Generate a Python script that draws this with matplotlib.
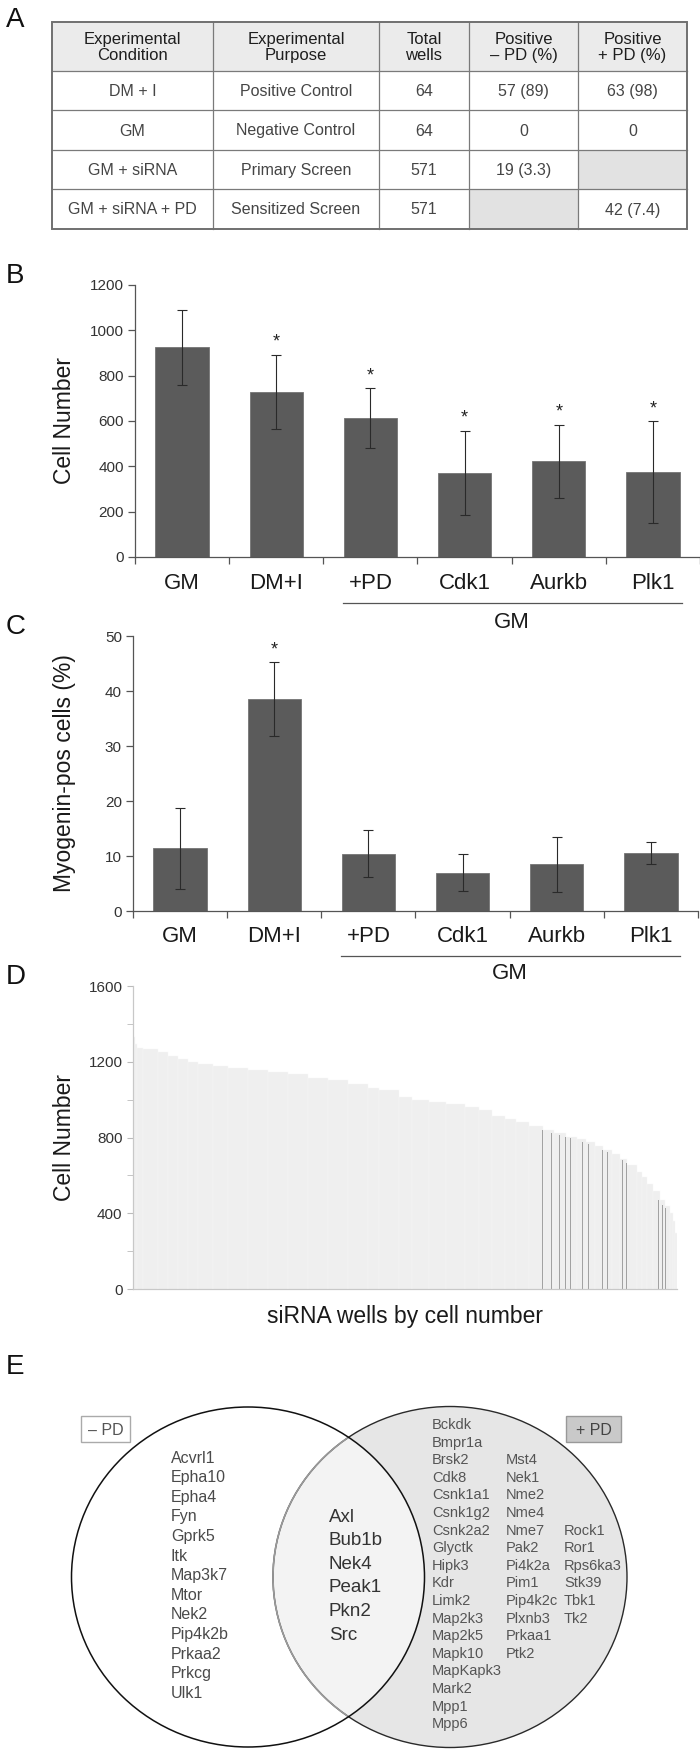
import matplotlib
matplotlib.use('Agg')
import matplotlib.pyplot as plt
import matplotlib.transforms as mtransforms
from matplotlib.patches import Rectangle, Ellipse
import numpy as np

plt.rcParams['font.family'] = ['Liberation Sans', 'DejaVu Sans']

# ---------------- data ----------------
table_header = ["Experimental\nCondition", "Experimental\nPurpose", "Total\nwells",
                "Positive\n– PD (%)", "Positive\n+ PD (%)"]
table_condition = ["DM + I", "GM", "GM + siRNA", "GM + siRNA + PD"]
table_purpose = ["Positive Control", "Negative Control", "Primary Screen", "Sensitized Screen"]
table_total = ["64", "64", "571", "571"]
table_pos_minus = ["57 (89)", "0", "19 (3.3)", None]
table_pos_plus = ["63 (98)", "0", None, "42 (7.4)"]

categories = ["GM", "DM+I", "+PD", "Cdk1", "Aurkb", "Plk1"]
group_label = "GM"
group_first, group_last = 2, 5
cell_mean = [925, 729, 612, 372, 422, 375]
cell_err = [165, 164, 132, 185, 161, 223]
cell_sig = [False, True, True, True, True, True]
myog_mean = [11.4, 38.5, 10.4, 7.0, 8.5, 10.6]
myog_err = [7.4, 6.7, 4.3, 3.3, 5.0, 2.0]
myog_sig = [False, True, False, False, False, False]

n_wells = 571
well_rank = [0, 2, 4, 11, 26, 37, 47, 58, 68, 84,
             100, 121, 142, 163, 184, 205, 226, 247, 258, 279,
             293, 311, 329, 348, 363, 377, 390, 402, 416, 430,
             442, 455, 466, 476, 485, 493, 503, 511, 519, 529,
             534, 539, 546, 553, 558, 564, 567, 569]
well_cells = [1330, 1295, 1275, 1268, 1250, 1232, 1215, 1197, 1190, 1180,
              1165, 1157, 1145, 1135, 1115, 1104, 1085, 1062, 1050, 1015,
              1000, 985, 975, 960, 945, 915, 898, 884, 862, 840,
              822, 805, 790, 775, 755, 734, 712, 688, 655, 620,
              590, 555, 515, 470, 438, 400, 360, 295]
positive_rank = [401, 430, 439, 444, 448, 454, 459, 466, 472, 478,
                 493, 498, 507, 514, 518, 528, 552, 556, 559]
positive_cells = [884, 840, 826, 818, 812, 803, 795, 787, 778, 768,
                  734, 722, 700, 682, 665, 608, 470, 446, 430]

venn_minus_only = ["Acvrl1", "Epha10", "Epha4", "Fyn", "Gprk5", "Itk", "Map3k7",
                   "Mtor", "Nek2", "Pip4k2b", "Prkaa2", "Prkcg", "Ulk1"]
venn_both = ["Axl", "Bub1b", "Nek4", "Peak1", "Pkn2", "Src"]
venn_plus_col1 = ["Bckdk", "Bmpr1a", "Brsk2", "Cdk8", "Csnk1a1", "Csnk1g2", "Csnk2a2",
                  "Glyctk", "Hipk3", "Kdr", "Limk2", "Map2k3", "Map2k5", "Mapk10",
                  "MapKapk3", "Mark2", "Mpp1", "Mpp6"]
venn_plus_col2 = ["Mst4", "Nek1", "Nme2", "Nme4", "Nme7", "Pak2", "Pi4k2a", "Pim1",
                  "Pip4k2c", "Plxnb3", "Prkaa1", "Ptk2"]
venn_plus_col3 = ["Rock1", "Ror1", "Rps6ka3", "Stk39", "Tbk1", "Tk2"]

# ---------------- layout helpers ----------------
W, H = 700, 1751
fig = plt.figure(figsize=(W / 100, H / 100), dpi=100)


def fbox(x0, y0, x1, y1):
    return [x0 / W, 1 - y1 / H, (x1 - x0) / W, (y1 - y0) / H]


ov = fig.add_axes([0, 0, 1, 1], zorder=0)
ov.set_xlim(0, W)
ov.set_ylim(H, 0)
ov.axis('off')
ov.patch.set_visible(False)

# panel letters
for letter, yc in zip("ABCDE", [20, 276, 627, 977, 1367]):
    ov.text(6, yc, letter, fontsize=20, ha='left', va='center', color='#111')

# ---------------- A: table ----------------
col_edges = [52, 213, 379, 469, 578, 687]
row_edges = [22, 71, 110, 150, 189, 229]
ov.add_patch(Rectangle((col_edges[0], row_edges[0]), col_edges[-1] - col_edges[0],
                       row_edges[1] - row_edges[0], facecolor='#ebebeb', edgecolor='none', zorder=1))
body = list(zip(table_condition, table_purpose, table_total, table_pos_minus, table_pos_plus))
for r, row in enumerate(body):
    for c, val in enumerate(row):
        x0, x1 = col_edges[c], col_edges[c + 1]
        y0, y1 = row_edges[r + 1], row_edges[r + 2]
        if val is None:
            ov.add_patch(Rectangle((x0, y0), x1 - x0, y1 - y0, facecolor='#e2e2e2',
                                   edgecolor='none', zorder=1))
        else:
            ov.text((x0 + x1) / 2, (y0 + y1) / 2 + 1, val, ha='center', va='center',
                    fontsize=11.5, color='#454545', zorder=3)
for c, val in enumerate(table_header):
    ov.text((col_edges[c] + col_edges[c + 1]) / 2, (row_edges[0] + row_edges[1]) / 2 + 1, val,
            ha='center', va='center', fontsize=12, color='#1e1e1e', linespacing=1.05, zorder=3)
for xe in col_edges[1:-1]:
    ov.plot([xe, xe], [row_edges[0], row_edges[-1]], color='#7a7a7a', lw=0.9, zorder=2)
for ye in row_edges[1:-1]:
    ov.plot([col_edges[0], col_edges[-1]], [ye, ye], color='#7a7a7a', lw=0.9, zorder=2)
ov.add_patch(Rectangle((col_edges[0], row_edges[0]), col_edges[-1] - col_edges[0],
                       row_edges[-1] - row_edges[0], facecolor='none', edgecolor='#707070',
                       lw=1.4, zorder=2))


# ---------------- B & C: bar panels ----------------
def bar_panel(box, means, errs, sig, ymax, ystep, ylabel, label_pad, group_y, line_y, ylab_x):
    x0, y0, x1, y1 = box
    ax = fig.add_axes(fbox(*box), zorder=1)
    ax.patch.set_visible(False)
    x = np.arange(len(categories))
    ax.bar(x, means, width=0.565, color='#5b5b5b', edgecolor='#747474', linewidth=0.6, zorder=2)
    ax.errorbar(x, means, yerr=errs, fmt='none', ecolor='#2a2a2a', elinewidth=0.8,
                capsize=3.5, capthick=0.8, zorder=3)
    for xi, m, e, s in zip(x, means, errs, sig):
        if s:
            ax.annotate('*', (xi, m + e), xytext=(0, 3), textcoords='offset points',
                        ha='center', va='bottom', fontsize=13, color='#222')
    ax.set_xlim(-0.5, len(categories) - 0.5)
    ax.set_ylim(0, ymax)
    ax.set_yticks(np.arange(0, ymax + 1, ystep))
    ax.set_xticks(x)
    ax.set_xticklabels(categories, fontsize=16, color='#1a1a1a')
    ax.set_xticks(np.arange(-0.5, len(categories)), minor=True)
    ax.tick_params(axis='x', which='major', length=0, pad=label_pad)
    ax.tick_params(axis='x', which='minor', length=5, direction='out', color='#555', width=0.9)
    ax.tick_params(axis='y', length=5, direction='out', labelsize=11, color='#555',
                   labelcolor='#333', width=0.9, pad=3)
    for s in ['top', 'right']:
        ax.spines[s].set_visible(False)
    for s in ['left', 'bottom']:
        ax.spines[s].set_color('#555')
        ax.spines[s].set_linewidth(0.9)
    ax.set_ylabel(ylabel, fontsize=16.5, color='#1a1a1a')
    ax.yaxis.set_label_coords((ylab_x - x0) / (x1 - x0), 0.5)
    # group underline + label
    trans = mtransforms.blended_transform_factory(ax.transData, ax.transAxes)
    ly = -(line_y - y1) / (y1 - y0)
    gy = -(group_y - y1) / (y1 - y0)
    ax.plot([group_first - 0.29, group_last + 0.31], [ly, ly], transform=trans,
            color='#555', lw=0.9, clip_on=False)
    ax.text((group_first + group_last) / 2, gy, group_label, transform=trans, ha='center',
            va='center', fontsize=16, color='#1a1a1a')
    return ax


bar_panel((135, 285, 700, 557), cell_mean, cell_err, cell_sig, 1200, 200, "Cell Number",
          11.5, 622, 603, 76)
bar_panel((133, 636, 698, 911), myog_mean, myog_err, myog_sig, 50, 10, "Myogenin-pos cells (%)",
          10.5, 973, 956, 76)

# ---------------- D: ranked siRNA wells ----------------
axd = fig.add_axes(fbox(133, 986, 677, 1289), zorder=1)
axd.patch.set_visible(False)
edges = np.array(well_rank + [n_wells])
axd.bar(edges[:-1], well_cells, width=np.diff(edges), align='edge', color='#efefef',
        edgecolor='#f7f7f7', linewidth=0.3, zorder=1)
axd.bar(positive_rank, positive_cells, width=0.9, align='center', color='#a2a2a2',
        edgecolor='none', zorder=2)
axd.set_xlim(0, n_wells)
axd.set_ylim(0, 1600)
axd.set_yticks(np.arange(0, 1601, 400))
axd.set_yticks(np.arange(0, 1601, 200), minor=True)
axd.set_xticks([])
axd.tick_params(axis='y', which='both', length=4, direction='out', color='#bbbbbb',
                labelsize=11, labelcolor='#333')
for s in ['top', 'right']:
    axd.spines[s].set_visible(False)
for s in ['left', 'bottom']:
    axd.spines[s].set_color('#c8c8c8')
    axd.spines[s].set_linewidth(0.9)
axd.set_ylabel("Cell Number", fontsize=16.5, color='#1a1a1a')
axd.yaxis.set_label_coords((76 - 133) / (677 - 133), 0.5)
axd.set_xlabel("siRNA wells by cell number", fontsize=16.5, color='#1a1a1a')
axd.xaxis.set_label_coords(0.5, -(1305 - 1289) / (1289 - 986))

# ---------------- E: Venn ----------------
lc, rc = (248, 1577), (450, 1577)
lw_, lh_ = 353, 340
rw_, rh_ = 354, 341
ov.add_patch(Ellipse(rc, rw_, rh_, facecolor='#e6e6e6', edgecolor='none', zorder=1))
clip_left = Ellipse(lc, lw_, lh_, transform=ov.transData)
inter = Ellipse(rc, rw_, rh_, facecolor='#f3f3f3', edgecolor='none', zorder=2)
ov.add_patch(inter)
inter.set_clip_path(clip_left)
ov.add_patch(Ellipse(rc, rw_, rh_, facecolor='none', edgecolor='#2a2a2a', lw=1.0, zorder=3))
inner_arc = Ellipse(rc, rw_, rh_, facecolor='none', edgecolor='#9a9a9a', lw=1.2, zorder=4)
ov.add_patch(inner_arc)
inner_arc.set_clip_path(Ellipse(lc, lw_ - 1, lh_ - 1, transform=ov.transData))
ov.add_patch(Ellipse(lc, lw_, lh_, facecolor='none', edgecolor='#111', lw=1.1, zorder=5))

for i, g in enumerate(venn_minus_only):
    ov.text(171, 1458 + 19.6 * i, g, fontsize=11.5, color='#4a4a4a', ha='left', va='center', zorder=6)
for i, g in enumerate(venn_both):
    ov.text(329, 1517 + 23.6 * i, g, fontsize=13.5, color='#333', ha='left', va='center', zorder=6)
for i, g in enumerate(venn_plus_col1):
    ov.text(432, 1425 + 17.6 * i, g, fontsize=10.5, color='#555', ha='left', va='center', zorder=6)
for i, g in enumerate(venn_plus_col2):
    ov.text(506, 1425 + 17.6 * (i + 2), g, fontsize=10.5, color='#555', ha='left', va='center', zorder=6)
for i, g in enumerate(venn_plus_col3):
    ov.text(564, 1425 + 17.6 * (i + 6), g, fontsize=10.5, color='#555', ha='left', va='center', zorder=6)

ov.add_patch(Rectangle((81, 1416), 49, 26, facecolor='white', edgecolor='#aaaaaa', lw=1.0, zorder=6))
ov.text(105.5, 1430, "– PD", fontsize=11.5, color='#555', ha='center', va='center', zorder=7)
ov.add_patch(Rectangle((566, 1416), 55, 26, facecolor='#c9c9c9', edgecolor='#999999', lw=1.0, zorder=6))
ov.text(593.5, 1430, "+ PD", fontsize=11.5, color='#444', ha='center', va='center', zorder=7)

fig.savefig("out.png", dpi=100)
